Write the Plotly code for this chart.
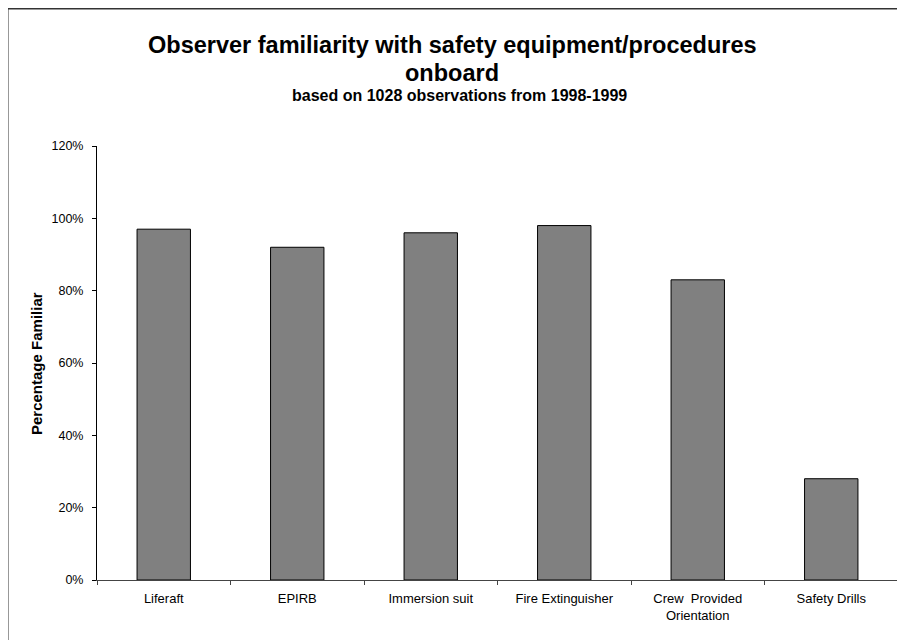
import plotly.graph_objects as go

categories = ["Liferaft", "EPIRB", "Immersion suit", "Fire Extinguisher",
              "Crew  Provided<br>Orientation", "Safety Drills"]
values = [0.97, 0.92, 0.96, 0.98, 0.83, 0.28]
y_ticks = [0, 0.2, 0.4, 0.6, 0.8, 1.0, 1.2]
y_tick_labels = ["0%", "20%", "40%", "60%", "80%", "100%", "120%"]

FONT = "Liberation Sans, Arial, sans-serif"

fig = go.Figure()
fig.add_trace(go.Bar(
    x=categories, y=values,
    marker=dict(color="#808080", line=dict(color="#000000", width=1)),
    hoverinfo="skip",
))

OFF = 8  # page body margin
W, H = 905, 640
ml, mr, mt, mb = 97 - OFF, 15, 146 - OFF, 68
pw, ph = W - ml - mr, H - mt - mb

def px_x(x):
    return (x - OFF - ml) / pw

def px_y(y):
    return (H - mb - (y - OFF)) / ph

fig.update_layout(
    width=W, height=H,
    margin=dict(l=ml, r=mr, t=mt, b=mb),
    paper_bgcolor="white", plot_bgcolor="white",
    showlegend=False,
    bargap=0.6,
    font=dict(family=FONT, color="#000000"),
    xaxis=dict(
        type="category",
        showline=True, linecolor="#444444", linewidth=1,
        ticks="outside", ticklen=4, tickcolor="#444444",
        tickson="boundaries",
        tickfont=dict(size=13, family=FONT, color="#000000"),
        ticklabelstandoff=6,
        showgrid=False, zeroline=False,
    ),
    yaxis=dict(
        range=[0, 1.2],
        tickvals=y_ticks, ticktext=y_tick_labels,
        showline=True, linecolor="#000000", linewidth=1,
        ticks="outside", ticklen=4, tickcolor="#000000",
        tickfont=dict(size=12.5, family=FONT, color="#000000"),
        ticklabelstandoff=6,
        showgrid=False, zeroline=False,
    ),
    shapes=[dict(
        type="rect", xref="paper", yref="paper",
        x0=px_x(7.5), x1=px_x(930), y0=px_y(670), y1=px_y(8.5),
        line=dict(color="#333333", width=2), fillcolor="rgba(0,0,0,0)",
        layer="below",
    )],
    annotations=[
        dict(text="<b>Observer familiarity with safety equipment/procedures</b>",
             xref="paper", yref="paper", x=px_x(452), y=px_y(45),
             xanchor="center", yanchor="middle", showarrow=False,
             font=dict(size=23.5, family=FONT, color="#000000")),
        dict(text="<b>onboard</b>",
             xref="paper", yref="paper", x=px_x(452), y=px_y(73),
             xanchor="center", yanchor="middle", showarrow=False,
             font=dict(size=23.5, family=FONT, color="#000000")),
        dict(text="<b>based on 1028 observations from 1998-1999</b>",
             xref="paper", yref="paper", x=px_x(459), y=px_y(95),
             xanchor="center", yanchor="middle", showarrow=False,
             font=dict(size=16, family=FONT, color="#000000")),
        dict(text="<b>Percentage Familiar</b>", textangle=-90,
             xref="paper", yref="paper", x=px_x(36), y=px_y(363),
             xanchor="center", yanchor="middle", showarrow=False,
             font=dict(size=15, family=FONT, color="#000000")),
    ],
)

fig.write_html("out.html")
